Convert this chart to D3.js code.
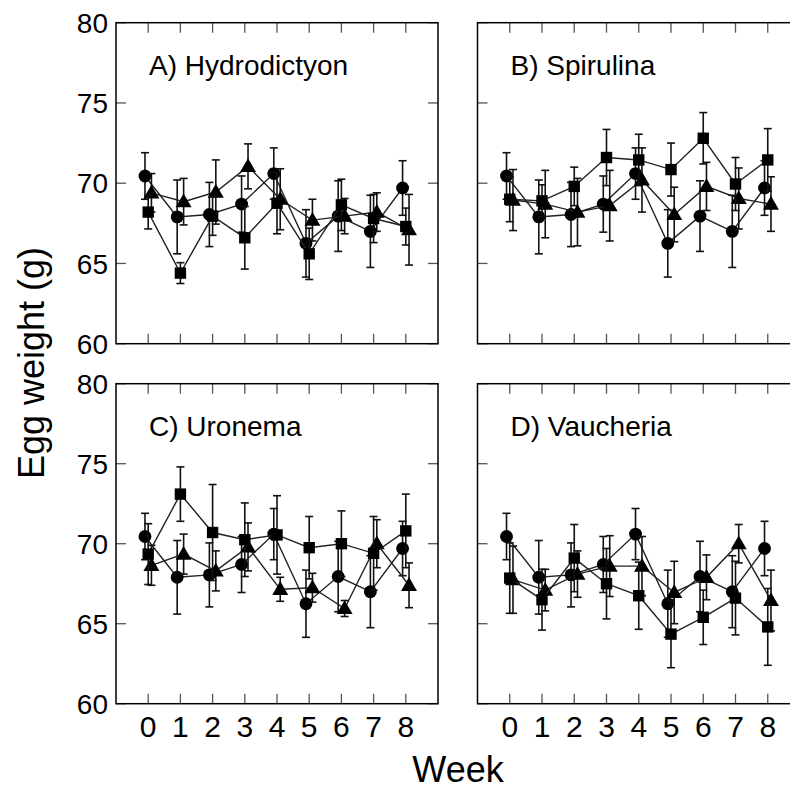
<!DOCTYPE html>
<html>
<head>
<meta charset="utf-8">
<script src="https://cdn.jsdelivr.net/npm/d3@7"></script>
<style>
  body { margin: 0; background: #fff; }
  text { font-family: "Liberation Sans", Arial, sans-serif; fill: #000; }
</style>
</head>
<body>
<script>
const weeks = [0, 1, 2, 3, 4, 5, 6, 7, 8]
const yTicks = [60, 65, 70, 75, 80]
const titles = ['A) Hydrodictyon', 'B) Spirulina', 'C) Uronema', 'D) Vaucheria']

// circles (same in every panel)
const circleMean = [70.45, 67.9, 68.05, 68.7, 70.6, 66.25, 67.95, 67.0, 69.7]
const circleErr = [1.45, 2.3, 2.0, 1.75, 1.6, 2.1, 2.2, 2.25, 1.7]

// triangles
const triMeanA = [69.4, 68.85, 69.45, 71.05, 69.0, 67.7, 67.95, 68.2, 67.1]
const triErrA = [1.2, 1.45, 2.0, 1.4, 1.9, 1.3, 1.1, 1.2, 2.2]
const triMeanB = [68.95, 68.7, 68.2, 68.6, 70.2, 68.05, 69.8, 69.05, 68.7]
const triErrB = [1.9, 2.1, 2.1, 2.2, 2.0, 1.7, 1.5, 1.9, 1.7]
const triMeanC = [68.65, 69.35, 68.3, 69.8, 67.15, 67.25, 65.95, 70.0, 67.4]
const triErrC = [1.25, 1.25, 1.25, 1.5, 0.75, 0.9, 0.5, 1.5, 1.4]
const triMeanD = [67.75, 67.1, 68.1, 68.6, 68.6, 66.95, 67.9, 70.0, 66.45]
const triErrD = [2.1, 1.3, 1.45, 1.9, 1.85, 1.95, 1.4, 1.2, 1.9]

// squares
const sqMeanA = [68.2, 64.4, 67.95, 66.6, 68.75, 65.6, 68.65, 67.8, 67.3]
const sqErrA = [1.05, 0.65, 1.2, 1.95, 1.9, 1.6, 1.6, 1.5, 1.15]
const sqMeanB = [69.0, 68.9, 69.8, 71.6, 71.45, 70.85, 72.8, 69.95, 71.45]
const sqErrB = [1.4, 1.0, 1.2, 1.75, 1.6, 1.65, 1.6, 1.65, 1.95]
const sqMeanC = [69.35, 73.1, 70.7, 70.25, 70.55, 69.75, 70.0, 69.4, 70.8]
const sqErrC = [1.9, 1.7, 3.0, 2.3, 2.45, 1.95, 2.05, 2.3, 2.3]
const sqMeanD = [67.85, 66.5, 69.1, 67.5, 66.75, 64.35, 65.4, 66.6, 64.8]
const sqErrD = [2.2, 1.9, 2.1, 2.2, 2.1, 2.1, 1.7, 2.3, 2.4]

const triMeans = [triMeanA, triMeanB, triMeanC, triMeanD]
const triErrs = [triErrA, triErrB, triErrC, triErrD]
const sqMeans = [sqMeanA, sqMeanB, sqMeanC, sqMeanD]
const sqErrs = [sqErrA, sqErrB, sqErrC, sqErrD]

const W = 790
const H = 790
const colX = [[116, 438], [477.5, 800]]
const rowY = [[22.7, 343.7], [383.7, 703.7]]

const svg = d3.select('body').append('svg')
  .attr('width', W)
  .attr('height', H)

const mk = (t, s) => weeks.map((w, i) => ({ week: w + s, v: t[0][i], e: t[1][i] }))

const drawPanel = (p) => {
  const col = p % 2
  const row = Math.floor(p / 2)
  const x = d3.scaleLinear().domain([-1, 9]).range(colX[col])
  const y = d3.scaleLinear().domain([60, 80]).range([rowY[row][1], rowY[row][0]])
  const g = svg.append('g')

  // ticks, all pointing inward
  const tk = g.append('g').attr('stroke', '#555').attr('stroke-width', 1.3)
  tk.selectAll('.xb').data(weeks).enter().append('line')
    .attr('x1', d => x(d)).attr('x2', d => x(d))
    .attr('y1', y(60)).attr('y2', y(60) - 10)
  tk.selectAll('.xt').data(weeks).enter().append('line')
    .attr('x1', d => x(d)).attr('x2', d => x(d))
    .attr('y1', y(80)).attr('y2', y(80) + 10)
  tk.selectAll('.yl').data(yTicks).enter().append('line')
    .attr('x1', x(-1)).attr('x2', x(-1) + 10)
    .attr('y1', d => y(d)).attr('y2', d => y(d))
  tk.selectAll('.yr').data(yTicks).enter().append('line')
    .attr('x1', x(9)).attr('x2', x(9) - 10)
    .attr('y1', d => y(d)).attr('y2', d => y(d))

  // frame
  g.append('rect')
    .attr('x', x(-1)).attr('y', y(80))
    .attr('width', x(9) - x(-1)).attr('height', y(60) - y(80))
    .attr('fill', 'none').attr('stroke', '#000').attr('stroke-width', 1.5)

  if (col === 0) {
    g.selectAll('.yl-lab').data(yTicks).enter().append('text')
      .attr('x', x(-1) - 8).attr('y', d => y(d)).attr('dy', '0.36em')
      .attr('text-anchor', 'end').style('font-size', '28px')
      .text(d => d)
  }
  if (row === 1) {
    g.selectAll('.xl-lab').data(weeks).enter().append('text')
      .attr('x', d => x(d)).attr('y', y(60) + 33)
      .attr('text-anchor', 'middle').style('font-size', '30px')
      .text(d => d)
  }

  g.append('text')
    .attr('x', x(-1) + 33).attr('y', y(80) + 52)
    .style('font-size', '28px')
    .text(titles[p])

  const series = [
    { shape: 'circle', data: mk([circleMean, circleErr], -0.1) },
    { shape: 'triangle', data: mk([triMeans[p], triErrs[p]], 0.1) },
    { shape: 'square', data: mk([sqMeans[p], sqErrs[p]], 0) }
  ]

  const line = d3.line().x(d => x(d.week)).y(d => y(d.v))

  series.forEach(s => {
    const sg = g.append('g')
    sg.append('path')
      .attr('d', line(s.data))
      .attr('fill', 'none').attr('stroke', '#222').attr('stroke-width', 1.4)

    const eb = sg.append('g').attr('stroke', '#111').attr('stroke-width', 1.6)
    eb.selectAll('.v').data(s.data).enter().append('line')
      .attr('x1', d => x(d.week)).attr('x2', d => x(d.week))
      .attr('y1', d => y(d.v - d.e)).attr('y2', d => y(d.v + d.e))
    eb.selectAll('.t').data(s.data).enter().append('line')
      .attr('x1', d => x(d.week) - 4).attr('x2', d => x(d.week) + 4)
      .attr('y1', d => y(d.v + d.e)).attr('y2', d => y(d.v + d.e))
    eb.selectAll('.b').data(s.data).enter().append('line')
      .attr('x1', d => x(d.week) - 4).attr('x2', d => x(d.week) + 4)
      .attr('y1', d => y(d.v - d.e)).attr('y2', d => y(d.v - d.e))

    const sym = s.shape === 'circle' ? d3.symbolCircle
      : s.shape === 'triangle' ? d3.symbolTriangle : d3.symbolSquare
    const size = s.shape === 'circle' ? 130 : s.shape === 'triangle' ? 110 : 130
    sg.selectAll('.m').data(s.data).enter().append('path')
      .attr('d', d3.symbol().type(sym).size(size))
      .attr('transform', d => `translate(${x(d.week)},${y(d.v) + (s.shape === 'triangle' ? 1 : 0)})`)
      .attr('fill', '#000')
  })
}

titles.forEach((t, i) => drawPanel(i))

svg.append('text')
  .attr('transform', 'translate(44,363) rotate(-90)')
  .attr('text-anchor', 'middle')
  .style('font-size', '36px')
  .text('Egg weight (g)')

svg.append('text')
  .attr('x', 458).attr('y', 782)
  .attr('text-anchor', 'middle')
  .style('font-size', '36px')
  .text('Week')
</script>
</body>
</html>
